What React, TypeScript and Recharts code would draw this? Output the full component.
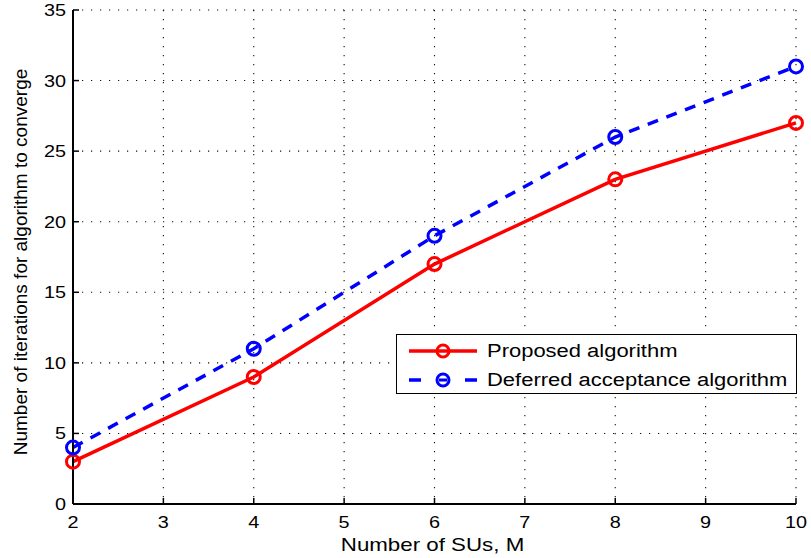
import React from "react";
import { LineChart, Line, XAxis, YAxis, CartesianGrid } from "recharts";

const numSUs = [2, 4, 6, 8, 10];
const proposed = [3, 9, 17, 23, 27];
const deferred = [4, 11, 19, 26, 31];
const xTicks = [2, 3, 4, 5, 6, 7, 8, 9, 10];
const yTicks = [0, 5, 10, 15, 20, 25, 30, 35];

const data = numSUs.map((m, i) => ({
  m,
  proposed: proposed[i],
  deferred: deferred[i],
}));

const FONT = "'Liberation Sans', Arial, Helvetica, sans-serif";
// the reference is stretched sideways a little, so the text is too
const STRETCH = 1.24;

const XTick = (props: any) => {
  const { x, payload } = props;
  return (
    <g transform={`translate(${x},528)`}>
      <text transform={`scale(${STRETCH},1)`} textAnchor="middle" fontSize={16} fill="#000" fontFamily={FONT}>
        {payload.value}
      </text>
    </g>
  );
};

const YTick = (props: any) => {
  const { y, payload } = props;
  return (
    <g transform={`translate(66,${y + 6})`}>
      <text transform={`scale(${STRETCH},1)`} textAnchor="end" fontSize={16} fill="#000" fontFamily={FONT}>
        {payload.value}
      </text>
    </g>
  );
};

const XLabel = (props: any) => {
  const { viewBox } = props;
  return (
    <g transform={`translate(${viewBox.x + viewBox.width / 2 - 2},551)`}>
      <text transform={`scale(${STRETCH},1)`} textAnchor="middle" fontSize={18} fill="#000" fontFamily={FONT}>
        Number of SUs, M
      </text>
    </g>
  );
};

const YLabel = (props: any) => {
  const { viewBox } = props;
  return (
    <text
      transform={`translate(27,${viewBox.y + viewBox.height / 2 + 5}) rotate(-90)`}
      textAnchor="middle"
      fontSize={19}
      fill="#000"
      fontFamily={FONT}
    >
      Number of iterations for algorithm to converge
    </text>
  );
};

const legendItems = [
  { name: "Proposed algorithm", color: "#ff0000", dash: undefined as string | undefined },
  { name: "Deferred acceptance algorithm", color: "#0000ff", dash: "12 44" },
];

const LegendBox = () => (
  <div
    style={{
      position: "absolute",
      left: 396,
      top: 334,
      width: 401,
      height: 60,
      border: "1.5px solid #000",
      background: "#fff",
      boxSizing: "border-box",
      fontFamily: FONT,
      fontSize: 18,
      color: "#000",
    }}
  >
    {legendItems.map((s, i) => (
      <div key={s.name} style={{ position: "absolute", left: 0, top: i === 0 ? 2 : 31, height: 28, width: 400 }}>
        <svg width={90} height={28} style={{ position: "absolute", left: 0, top: 0 }}>
          <line
            x1={12}
            x2={80}
            y1={14}
            y2={14}
            stroke={s.color}
            strokeWidth={3.5}
            strokeDasharray={s.dash}
          />
          <circle cx={46} cy={14} r={6} fill="none" stroke={s.color} strokeWidth={3} />
          {s.dash && <line x1={42} x2={50} y1={14} y2={14} stroke={s.color} strokeWidth={3} />}
        </svg>
        <span
          style={{
            position: "absolute",
            left: 90,
            top: 3,
            lineHeight: "22px",
            whiteSpace: "nowrap",
            transform: `scaleX(${STRETCH - 0.02})`,
            transformOrigin: "left center",
          }}
        >
          {s.name}
        </span>
      </div>
    ))}
  </div>
);

export default function App() {
  return (
    <div style={{ position: "absolute", left: 0, top: 0, width: 811, height: 558, background: "#fff" }}>
      <LineChart
        width={811}
        height={558}
        data={data}
        margin={{ top: 10, right: 15, bottom: 0, left: 0 }}
      >
        <CartesianGrid
          xAxisId="bottom"
          yAxisId="left"
          stroke="#111"
          strokeDasharray="1.2 7.8"
          strokeWidth={1.1}
        />
        <XAxis
          xAxisId="bottom"
          dataKey="m"
          type="number"
          domain={[2, 10]}
          ticks={xTicks}
          interval={0}
          axisLine={{ stroke: "#000", strokeWidth: 2 }}
          tickLine={{ stroke: "#000", strokeWidth: 1.5 }}
          tickSize={-6}
          height={54}
          tick={<XTick />}
          label={<XLabel />}
        />
        <XAxis
          xAxisId="top"
          orientation="top"
          dataKey="m"
          type="number"
          domain={[2, 10]}
          ticks={xTicks}
          interval={0}
          axisLine={{ stroke: "#000", strokeWidth: 2 }}
          tickLine={{ stroke: "#000", strokeWidth: 1.5 }}
          tickSize={-6}
          tickFormatter={() => ""}
          height={0}
        />
        <YAxis
          yAxisId="left"
          type="number"
          domain={[0, 35]}
          ticks={yTicks}
          interval={0}
          axisLine={{ stroke: "#000", strokeWidth: 2 }}
          tickLine={{ stroke: "#000", strokeWidth: 1.5 }}
          tickSize={-6}
          width={73}
          tick={<YTick />}
          label={<YLabel />}
        />
        <YAxis
          yAxisId="right"
          orientation="right"
          type="number"
          domain={[0, 35]}
          ticks={yTicks}
          interval={0}
          axisLine={{ stroke: "#000", strokeWidth: 2 }}
          tickLine={{ stroke: "#000", strokeWidth: 1.5 }}
          tickSize={-6}
          tickFormatter={() => ""}
          width={0}
        />
        <Line
          xAxisId="bottom"
          yAxisId="left"
          type="linear"
          dataKey="proposed"
          name="Proposed algorithm"
          stroke="#ff0000"
          strokeWidth={3.5}
          dot={{ r: 6.5, fill: "none", stroke: "#ff0000", strokeWidth: 3 }}
          activeDot={false}
          isAnimationActive={false}
        />
        <Line
          xAxisId="bottom"
          yAxisId="left"
          type="linear"
          dataKey="deferred"
          name="Deferred acceptance algorithm"
          stroke="#0000ff"
          strokeWidth={3.5}
          strokeDasharray="11 9"
          dot={{ r: 6.5, fill: "none", stroke: "#0000ff", strokeWidth: 3, strokeDasharray: "" }}
          activeDot={false}
          isAnimationActive={false}
        />
      </LineChart>
      <LegendBox />
    </div>
  );
}
